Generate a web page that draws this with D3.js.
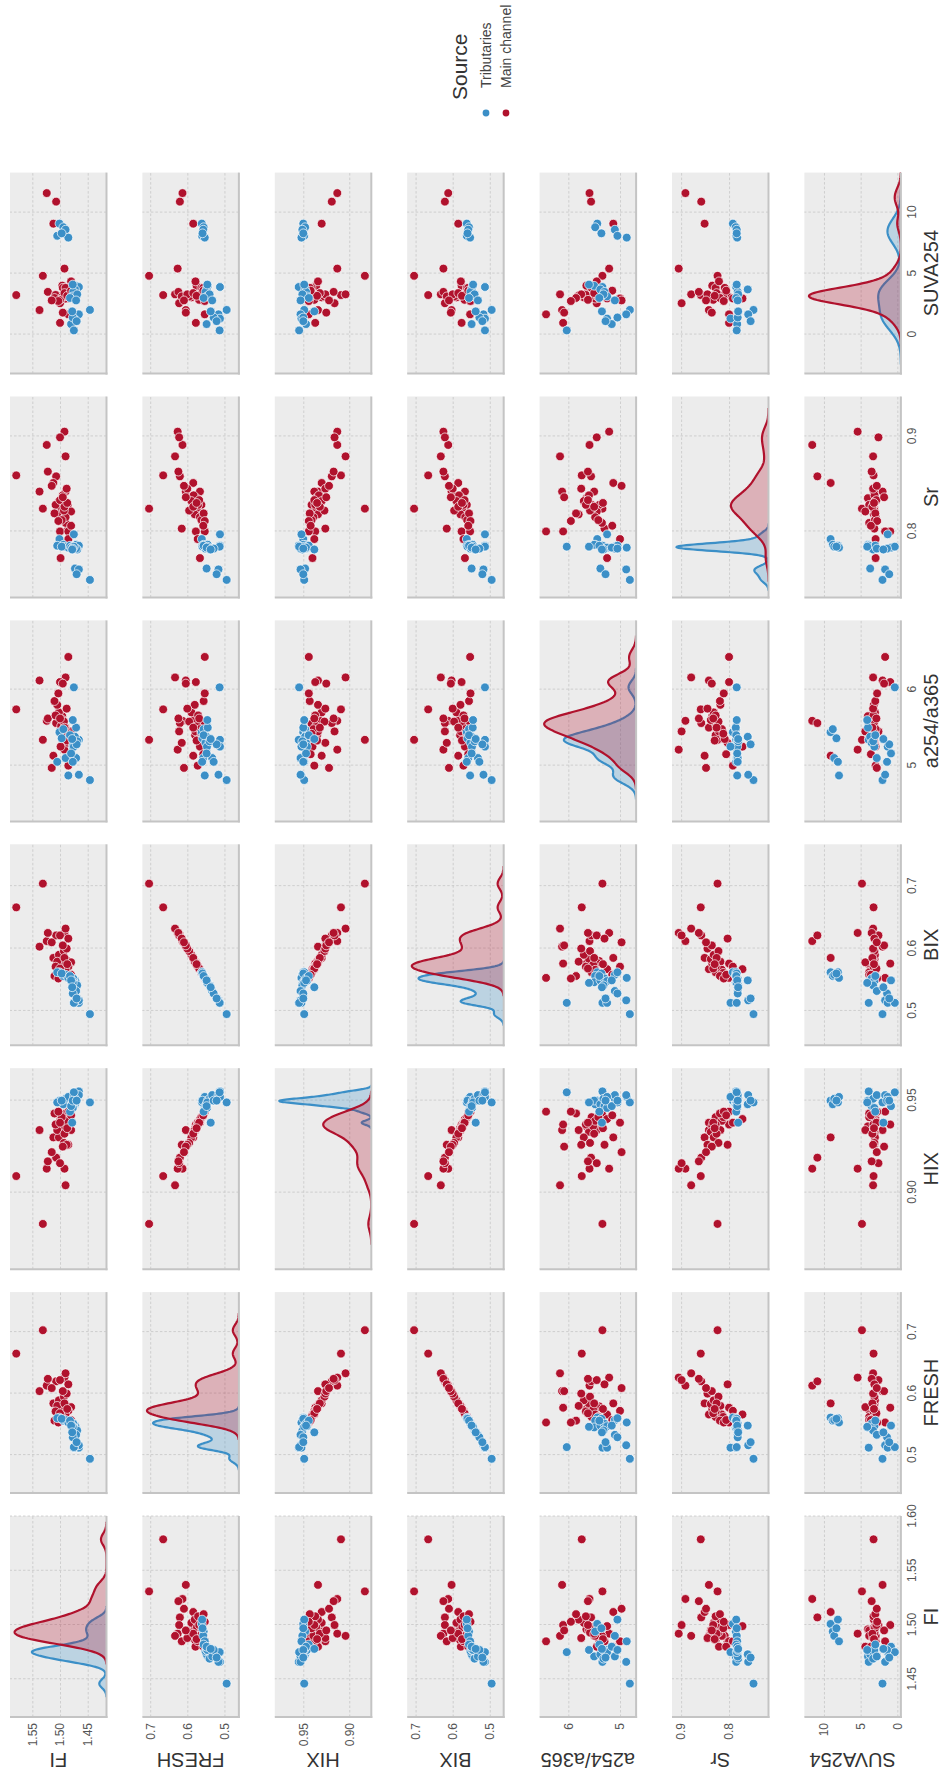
<!doctype html>
<html lang="en">
<head>
<meta charset="utf-8">
<script src="https://cdn.jsdelivr.net/npm/d3@7"></script>
<style>
  body { margin: 0; background: #fff; }
  svg { display: block; font-family: "Liberation Sans", Arial, sans-serif; }
</style>
</head>
<body>
<svg width="946" height="1780"></svg>
<script>

// variables in pairplot order
var vars = ["FI", "FRESH", "HIX", "BIX", "a254/a365", "Sr", "SUVA254"];
var groups = ["Tributaries", "Main channel"];

// one entry per sample: 38 main channel, then 23 tributaries
var source = [
  "M","M","M","M","M","M","M","M","M","M","M","M","M","M","M","M","M","M","M","M",
  "M","M","M","M","M","M","M","M","M","M","M","M","M","M","M","M","M","M",
  "T","T","T","T","T","T","T","T","T","T","T","T","T","T","T","T","T","T","T","T","T","T","T"
];

var FI = [
  1.531, 1.579, 1.524, 1.507, 1.512, 1.492, 1.500, 1.490, 1.522, 1.537,
  1.485, 1.490, 1.496, 1.486, 1.495, 1.480, 1.490, 1.500, 1.485, 1.485,
  1.499, 1.495, 1.502, 1.498, 1.505, 1.490, 1.493, 1.508, 1.497, 1.488,
  1.500, 1.492, 1.510, 1.487, 1.503, 1.495, 1.480, 1.515,
  1.501, 1.494, 1.490, 1.505, 1.485, 1.497, 1.471, 1.466, 1.473, 1.476,
  1.477, 1.469, 1.482, 1.477, 1.471, 1.446, 1.466, 1.475, 1.480, 1.475,
  1.477, 1.470, 1.478
];
var FRESH = [
  0.703, 0.665, 0.613, 0.620, 0.584, 0.626, 0.622, 0.633, 0.624, 0.604,
  0.615, 0.566, 0.575, 0.579, 0.562, 0.578, 0.557, 0.577, 0.553, 0.572,
  0.566, 0.583, 0.589, 0.574, 0.580, 0.566, 0.595, 0.571, 0.562, 0.600,
  0.568, 0.584, 0.556, 0.575, 0.553, 0.604, 0.557, 0.609,
  0.561, 0.556, 0.557, 0.560, 0.553, 0.559, 0.545, 0.512, 0.548, 0.551,
  0.547, 0.540, 0.556, 0.546, 0.533, 0.494, 0.516, 0.512, 0.548, 0.513,
  0.529, 0.521, 0.537
];
var HIX = [
  0.883, 0.909, 0.913, 0.919, 0.930, 0.913, 0.916, 0.904, 0.917, 0.934,
  0.926, 0.938, 0.936, 0.935, 0.941, 0.934, 0.943, 0.937, 0.944, 0.938,
  0.940, 0.933, 0.930, 0.936, 0.934, 0.939, 0.927, 0.937, 0.941, 0.926,
  0.938, 0.932, 0.943, 0.935, 0.944, 0.925, 0.942, 0.922,
  0.950, 0.948, 0.951, 0.949, 0.952, 0.950, 0.950, 0.955, 0.948, 0.947,
  0.946, 0.951, 0.944, 0.949, 0.953, 0.949, 0.953, 0.952, 0.947, 0.9545,
  0.950, 0.950, 0.938
];
var BIX = [
  0.704, 0.666, 0.612, 0.621, 0.585, 0.625, 0.621, 0.632, 0.625, 0.603,
  0.616, 0.567, 0.576, 0.580, 0.562, 0.578, 0.558, 0.576, 0.553, 0.571,
  0.567, 0.583, 0.590, 0.574, 0.579, 0.566, 0.596, 0.571, 0.561, 0.600,
  0.568, 0.585, 0.556, 0.575, 0.552, 0.605, 0.558, 0.610,
  0.562, 0.556, 0.558, 0.562, 0.553, 0.560, 0.546, 0.513, 0.549, 0.552,
  0.548, 0.541, 0.556, 0.545, 0.532, 0.495, 0.517, 0.513, 0.549, 0.513,
  0.528, 0.520, 0.538
];
var A254 = [
  5.34, 5.74, 5.59, 5.56, 5.13, 5.21, 5.45, 6.16, 5.62, 6.12,
  5.30, 5.50, 5.65, 5.40, 5.55, 5.45, 5.35, 6.10, 6.43, 5.00,
  5.25, 5.60, 5.70, 5.52, 5.80, 5.48, 5.58, 5.66, 5.42, 5.75,
  5.62, 5.50, 5.85, 5.33, 5.95, 6.08, 5.15, 4.97,
  5.44, 5.48, 5.10, 5.05, 4.87, 5.36, 5.50, 5.34, 5.38, 5.30,
  5.25, 5.32, 5.40, 5.60, 5.10, 4.81, 4.88, 5.25, 5.16, 6.03,
  5.05, 5.28, 5.35
];
var SR = [
  0.824, 0.859, 0.891, 0.858, 0.851, 0.905, 0.899, 0.879, 0.863, 0.842,
  0.803, 0.842, 0.835, 0.828, 0.828, 0.821, 0.809, 0.800, 0.800, 0.792,
  0.772, 0.838, 0.832, 0.825, 0.818, 0.815, 0.822, 0.828, 0.812, 0.845,
  0.833, 0.826, 0.819, 0.830, 0.811, 0.836, 0.806, 0.848,
  0.792, 0.786, 0.784, 0.785, 0.783, 0.784, 0.786, 0.785, 0.761, 0.782,
  0.783, 0.781, 0.785, 0.784, 0.782, 0.749, 0.760, 0.797, 0.783, 0.784,
  0.782, 0.755, 0.781
];
var SUVA = [
  4.82, 3.24, 11.6, 10.9, 9.09, 5.41, 2.57, 3.30, 3.50, 2.01,
  3.13, 3.20, 4.01, 3.15, 3.83, 4.36, 3.83, 0.96, 1.66, 2.96,
  2.96, 3.10, 3.05, 3.15, 3.20, 2.95, 3.12, 3.25, 3.05, 3.30,
  2.85, 3.40, 3.00, 3.18, 2.75, 1.80, 3.60, 2.80,
  9.10, 8.80, 8.60, 8.10, 7.95, 8.30, 4.00, 3.90, 3.70, 3.50,
  3.13, 3.30, 3.00, 4.10, 2.80, 2.02, 1.66, 1.31, 0.86, 0.34,
  1.40, 1.10, 1.90
];

// tick values per variable
var ticksFI = [1.45, 1.50, 1.55, 1.60];
var ticksFRESH = [0.5, 0.6, 0.7];
var ticksHIX = [0.90, 0.95];
var ticksBIX = [0.5, 0.6, 0.7];
var ticksA254 = [5, 6];
var ticksSR = [0.8, 0.9];
var ticksSUVA = [0, 5, 10];

var columns = [FI, FRESH, HIX, BIX, A254, SR, SUVA];
var tickSets = [ticksFI, ticksFRESH, ticksHIX, ticksBIX, ticksA254, ticksSR, ticksSUVA];
var tickFmt = [".2f", ".1f", ".2f", ".1f", "d", ".1f", "d"];

// axis limits as the plotting library chose them
var xLim = [[1.4152, 1.6005], [0.4382, 0.765], [0.8584, 0.9676], [0.445, 0.767],
            [4.266, 6.911], [0.7305, 0.942], [-3.2, 13.28]];
var yLim = [[1.4161, 1.5903], [0.461, 0.721], [0.876, 0.981], [0.4625, 0.7226],
            [4.689, 6.555], [0.7177, 0.919], [-0.49, 12.67]];

var color = { "M": "#b0122d", "T": "#3b8fc7" };
var groupCode = { "Tributaries": "T", "Main channel": "M" };

// the figure is drawn in its own landscape frame and then turned a quarter turn
var W = 1780, H = 946;
var cellW = 201, cellH = 96.5, left0 = 63, stepX = 223.9, top0 = 10, stepY = 132.4;

var svg = d3.select("svg");
var fig = svg.append("g").attr("transform", "translate(0," + W + ") rotate(-90)");
var defs = svg.append("defs");

var xs = vars.map(function(v, c) {
  var l = left0 + stepX * c;
  return d3.scaleLinear().domain(xLim[c]).range([l, l + cellW]);
});
var ys = vars.map(function(v, r) {
  var t = top0 + stepY * r;
  return d3.scaleLinear().domain(yLim[r]).range([t + cellH, t]);
});

function inDomain(ticks, scale) {
  var d = scale.domain();
  return ticks.filter(function(t) { return t >= d[0] && t <= d[1]; });
}

function kde(vals, adjust) {
  var n = vals.length;
  var bw = d3.deviation(vals) * Math.pow(n, -0.2) * adjust;
  var lo = d3.min(vals) - 3 * bw, hi = d3.max(vals) + 3 * bw;
  return d3.range(200).map(function(i) {
    var x = lo + (hi - lo) * i / 199, s = 0;
    vals.forEach(function(v) { var z = (x - v) / bw; s += Math.exp(-0.5 * z * z); });
    return [x, s / (n * bw * Math.sqrt(2 * Math.PI))];
  });
}

var N = source.length;

vars.forEach(function(vy, r) {
  vars.forEach(function(vx, c) {
    var x = xs[c], y = ys[r];
    var l = x.range()[0], t = y.range()[1], b = y.range()[0];
    var cell = fig.append("g");

    cell.append("rect").attr("x", l).attr("y", t).attr("width", cellW).attr("height", cellH)
      .attr("fill", "#ececec");

    // grid
    var gx = cell.append("g").attr("transform", "translate(0," + b + ")")
      .call(d3.axisBottom(x).tickValues(inDomain(tickSets[c], x)).tickSize(-cellH).tickFormat(""));
    var gy = cell.append("g").attr("transform", "translate(" + l + ",0)")
      .call(d3.axisLeft(y).tickValues(inDomain(tickSets[r], y)).tickSize(-cellW).tickFormat(""));
    [gx, gy].forEach(function(g) {
      g.select(".domain").remove();
      g.selectAll("line").attr("stroke", "#c6c6c6").attr("stroke-width", 0.8)
        .attr("stroke-dasharray", "2.5,2");
    });

    if (r === c) {
      var id = "clip" + r;
      defs.append("clipPath").attr("id", id).append("rect")
        .attr("x", l).attr("y", t).attr("width", cellW).attr("height", cellH);
      var curves = groups.map(function(gname) {
        var code = groupCode[gname];
        var vals = columns[c].filter(function(d, i) { return source[i] === code; });
        var k = kde(vals, 0.6).map(function(p) { return [p[0], p[1] * vals.length / N]; });
        return { code: code, pts: k };
      });
      var maxD = d3.max(curves, function(cv) { return d3.max(cv.pts, function(p) { return p[1]; }); });
      var dy = d3.scaleLinear().domain([0, maxD * 1.05]).range([b, t]);
      var area = d3.area().x(function(p) { return x(p[0]); }).y0(b).y1(function(p) { return dy(p[1]); });
      var line = d3.line().x(function(p) { return x(p[0]); }).y(function(p) { return dy(p[1]); });
      var kg = cell.append("g").attr("clip-path", "url(#" + id + ")");
      curves.forEach(function(cv) {
        kg.append("path").attr("d", area(cv.pts)).attr("fill", color[cv.code]).attr("fill-opacity", 0.27);
        kg.append("path").attr("d", line(cv.pts)).attr("fill", "none")
          .attr("stroke", color[cv.code]).attr("stroke-width", 2.2);
      });
    } else {
      cell.append("g").selectAll("circle").data(d3.range(N)).join("circle")
        .attr("cx", function(i) { return x(columns[c][i]); })
        .attr("cy", function(i) { return y(columns[r][i]); })
        .attr("r", 4.4)
        .attr("fill", function(i) { return color[source[i]]; })
        .attr("stroke", "#fff").attr("stroke-width", 0.7);
    }

    // spines: left and bottom
    cell.append("line").attr("x1", l).attr("x2", l).attr("y1", t).attr("y2", b + 1)
      .attr("stroke", "#c4c4c4").attr("stroke-width", 2);
    cell.append("line").attr("x1", l - 1).attr("x2", l + cellW).attr("y1", b).attr("y2", b)
      .attr("stroke", "#c4c4c4").attr("stroke-width", 2);
  });
});

// tick labels and axis titles
var bottomY = ys[6].range()[0];
vars.forEach(function(v, c) {
  var ax = fig.append("g").attr("transform", "translate(0," + bottomY + ")")
    .call(d3.axisBottom(xs[c]).tickValues(inDomain(tickSets[c], xs[c]))
      .tickFormat(d3.format(tickFmt[c])).tickSize(0).tickPadding(0));
  ax.select(".domain").remove();
  ax.selectAll("text").attr("y", 15).attr("dy", 0).attr("font-size", 12)
    .attr("fill", "#555").attr("font-family", "Liberation Sans, Arial, sans-serif");
  fig.append("text").attr("x", (xs[c].range()[0] + xs[c].range()[1]) / 2).attr("y", 938)
    .attr("text-anchor", "middle").attr("font-size", 20).attr("fill", "#333").text(v);
});
vars.forEach(function(v, r) {
  var ay = fig.append("g").attr("transform", "translate(" + left0 + ",0)")
    .call(d3.axisLeft(ys[r]).tickValues(inDomain(tickSets[r], ys[r]))
      .tickFormat(d3.format(tickFmt[r])).tickSize(0).tickPadding(6));
  ay.select(".domain").remove();
  ay.selectAll("text").attr("font-size", 12).attr("fill", "#555")
    .attr("font-family", "Liberation Sans, Arial, sans-serif");
  var cy = (ys[r].range()[0] + ys[r].range()[1]) / 2;
  fig.append("text").attr("transform", "translate(27," + cy + ") rotate(-90)")
    .attr("text-anchor", "middle").attr("font-size", 20).attr("fill", "#333").text(v);
});

// legend
var lg = fig.append("g");
lg.append("text").attr("x", 1680).attr("y", 467).attr("font-size", 21).attr("fill", "#333").text("Source");
groups.forEach(function(gname, i) {
  var yy = 486 + 20 * i;
  lg.append("circle").attr("cx", 1667).attr("cy", yy).attr("r", 3.4)
    .attr("fill", color[groupCode[gname]]);
  lg.append("text").attr("x", 1692).attr("y", yy + 4.8).attr("font-size", 14)
    .attr("fill", "#444").text(gname);
});

</script>
</body>
</html>
